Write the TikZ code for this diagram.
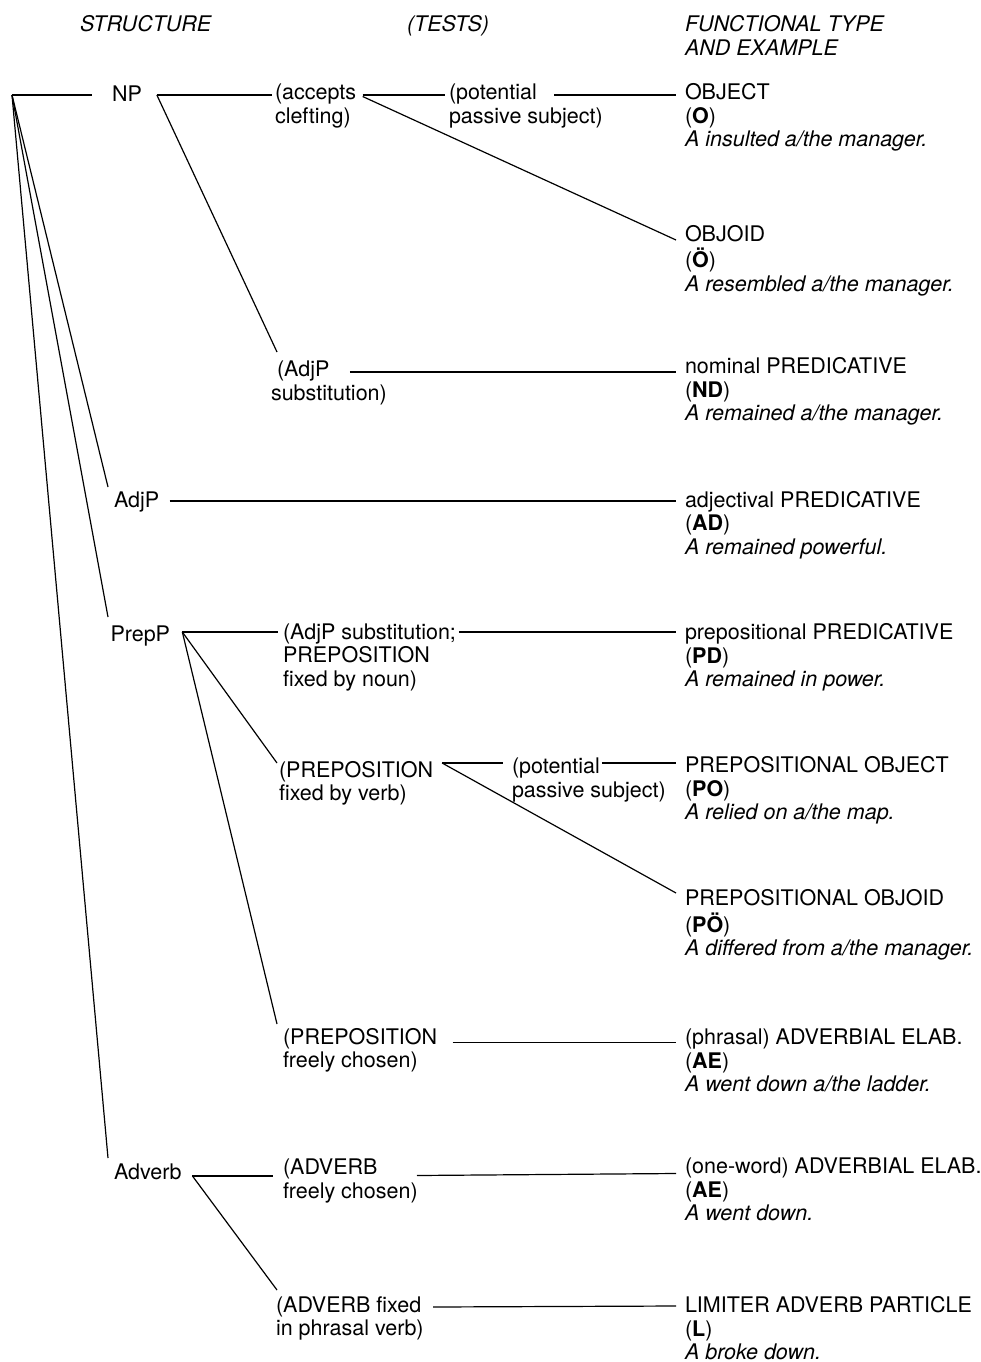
\documentclass[tikz,border=0pt]{standalone}
\usepackage{fontspec}
\setmainfont{TeX Gyre Heros}
\newcommand\fsz{\fontsize{21.5}{23.7}\selectfont}
\newcommand\blk[1]{\begin{tabular}[t]{@{}l@{}}#1\end{tabular}}
\begin{document}
\begin{tikzpicture}[x=1pt,y=-1pt,
  txt/.style={inner sep=0pt,outer sep=0pt,anchor=base west,font=\fsz},
  hdr/.style={txt,font=\fsz\itshape},
  ln/.style={line width=1.2pt}]
\useasboundingbox (0,0) rectangle (981,1362);

% headers
\node[hdr] (hs) at (80,32) {STRUCTURE};
\node[hdr] (ht) at (407,32) {(TESTS)};
\node[hdr] (hf) at (685,32) {\blk{FUNCTIONAL TYPE\\AND EXAMPLE}};

% root
\coordinate (root) at (12,95);

% structure column
\node[txt] (np) at (112,101.5) {NP};
\node[txt] (adjp) at (114,507) {AdjP};
\node[txt] (prepp) at (110.5,641) {PrepP};
\node[txt] (adverb) at (114,1179) {Adverb};

% tests column
\node[txt] (acc) at (275,99.5) {(accepts};
\node[txt] (accB) at ([yshift=-23.7pt]acc.base west) {clefting)};
\node[txt] (pot1) at (449,100) {(potential};
\node[txt] (pot1B) at ([yshift=-23.7pt]pot1.base west) {passive subject)};
\node[txt] (adjsub) at (277,376.5) {(AdjP};
\node[txt] (adjsubB) at (271,400.2) {substitution)};
\node[txt] (adjsn) at (283,639) {(AdjP substitution;};
\node[txt] (adjsnB) at ([yshift=-23.7pt]adjsn.base west) {\blk{PREPOSITION\\fixed by noun)}};
\node[txt] (prepv) at (279,777) {(PREPOSITION};
\node[txt] (prepvB) at ([yshift=-23.7pt]prepv.base west) {fixed by verb)};
\node[txt] (pot2) at (512,773.5) {(potential};
\node[txt] (pot2B) at ([yshift=-23.7pt]pot2.base west) {passive subject)};
\node[txt] (prepf) at (283,1044) {(PREPOSITION};
\node[txt] (prepfB) at ([yshift=-23.7pt]prepf.base west) {freely chosen)};
\node[txt] (advf) at (283,1174.5) {(ADVERB};
\node[txt] (advfB) at ([yshift=-23.7pt]advf.base west) {freely chosen)};
\node[txt] (advx) at (276,1312) {(ADVERB fixed};
\node[txt] (advxB) at ([yshift=-23.7pt]advx.base west) {in phrasal verb)};

% functional type column
\node[txt] (obj) at (685,99.5) {\blk{OBJECT\\(\textbf{O})\\\textit{A insulted a/the manager.}}};
\node[txt] (objoid) at (685,241) {\blk{OBJOID\\(\textbf{Ö})\\\textit{A resembled a/the manager.}}};
\node[txt] (nompred) at (685,373.5) {\blk{nominal PREDICATIVE\\(\textbf{ND})\\\textit{A remained a/the manager.}}};
\node[txt] (adjpred) at (685,507) {\blk{adjectival PREDICATIVE\\(\textbf{AD})\\\textit{A remained powerful.}}};
\node[txt] (preppred) at (685,639.5) {\blk{prepositional PREDICATIVE\\(\textbf{PD})\\\textit{A remained in power.}}};
\node[txt] (prepobj) at (685,772.5) {\blk{PREPOSITIONAL OBJECT\\(\textbf{PO})\\\textit{A relied on a/the map.}}};
\node[txt] (prepobjoid) at (685,905.5) {\blk{PREPOSITIONAL OBJOID\\(\textbf{PÖ})\\\textit{A differed from a/the manager.}}};
\node[txt] (phrasal) at (685,1044.5) {\blk{(phrasal) ADVERBIAL ELAB.\\(\textbf{AE})\\\textit{A went down a/the ladder.}}};
\node[txt] (oneword) at (685,1173.5) {\blk{(one-word) ADVERBIAL ELAB.\\(\textbf{AE})\\\textit{A went down.}}};
\node[txt] (limiter) at (685,1312.5) {\blk{LIMITER ADVERB PARTICLE\\(\textbf{L})\\\textit{A broke down.}}};

% connectors from root
\draw[ln] (root) -- ([xshift=-20pt,yshift=6.5pt]np.base west);
\draw[ln] (root) -- ([xshift=-6pt,yshift=20pt]adjp.base west);
\draw[ln] (root) -- ([xshift=-2.5pt,yshift=24pt]prepp.base west);
\draw[ln] (root) -- ([xshift=-6pt,yshift=21pt]adverb.base west);

% NP branch
\draw[ln] ([xshift=15pt,yshift=6.5pt]np.base east) -- ([xshift=-3pt,yshift=4.5pt]acc.base west);
\draw[ln] ([xshift=15pt,yshift=6.5pt]np.base east) -- ([yshift=24.5pt]adjsub.base west);
\draw[ln] ([xshift=6.5pt,yshift=4.5pt]acc.base east) -- ([xshift=-4pt,yshift=5pt]pot1.base west);
\draw[ln] ([xshift=6.5pt,yshift=3pt]acc.base east) -- ([xshift=-9pt,yshift=1pt]objoid.base west);
\draw[ln] ([xshift=17.5pt,yshift=5pt]pot1.base east) -- ([xshift=-9pt,yshift=4.5pt]obj.base west);
\draw[ln] ([xshift=20.5pt,yshift=4.5pt]adjsub.base east) -- ([xshift=-9pt,yshift=1.5pt]nompred.base west);

% AdjP branch
\draw[ln] ([xshift=10.5pt,yshift=6pt]adjp.base east) -- ([xshift=-9pt,yshift=6pt]adjpred.base west);

% PrepP branch
\draw[ln] ([xshift=12.3pt,yshift=9pt]prepp.base east) -- ([xshift=-5pt,yshift=7pt]adjsn.base west);
\draw[ln] ([xshift=12.3pt,yshift=9pt]prepp.base east) -- ([xshift=-2pt,yshift=14pt]prepv.base west);
\draw[ln] ([xshift=12.3pt,yshift=9pt]prepp.base east) -- ([xshift=-6pt,yshift=20pt]prepf.base west);
\draw[ln] ([xshift=3pt,yshift=7pt]adjsn.base east) -- ([xshift=-9pt,yshift=7.5pt]preppred.base west);
\draw[ln] ([xshift=9pt,yshift=14pt]prepv.base east) -- ([xshift=-9pt,yshift=10.5pt]pot2.base west);
\draw[ln] ([xshift=9pt,yshift=14pt]prepv.base east) -- ([xshift=-9pt,yshift=12.5pt]prepobjoid.base west);
\draw[ln] ([xshift=2pt,yshift=10.5pt]pot2.base east) -- ([xshift=-9pt,yshift=9.5pt]prepobj.base west);
\draw[ln] ([xshift=15.5pt,yshift=1.5pt]prepf.base east) -- ([xshift=-9pt,yshift=2pt]phrasal.base west);

% Adverb branch
\draw[ln] ([xshift=11pt,yshift=3pt]adverb.base east) -- ([xshift=-10pt,yshift=-1.5pt]advf.base west);
\draw[ln] ([xshift=11pt,yshift=3pt]adverb.base east) -- ([xshift=1pt,yshift=22pt]advx.base west);
\draw[ln] ([xshift=39.5pt,yshift=-1pt]advf.base east) -- ([xshift=-9pt,yshift=0pt]oneword.base west);
\draw[ln] ([xshift=12pt,yshift=5pt]advx.base east) -- ([xshift=-9pt,yshift=6.5pt]limiter.base west);
\end{tikzpicture}
\end{document}
